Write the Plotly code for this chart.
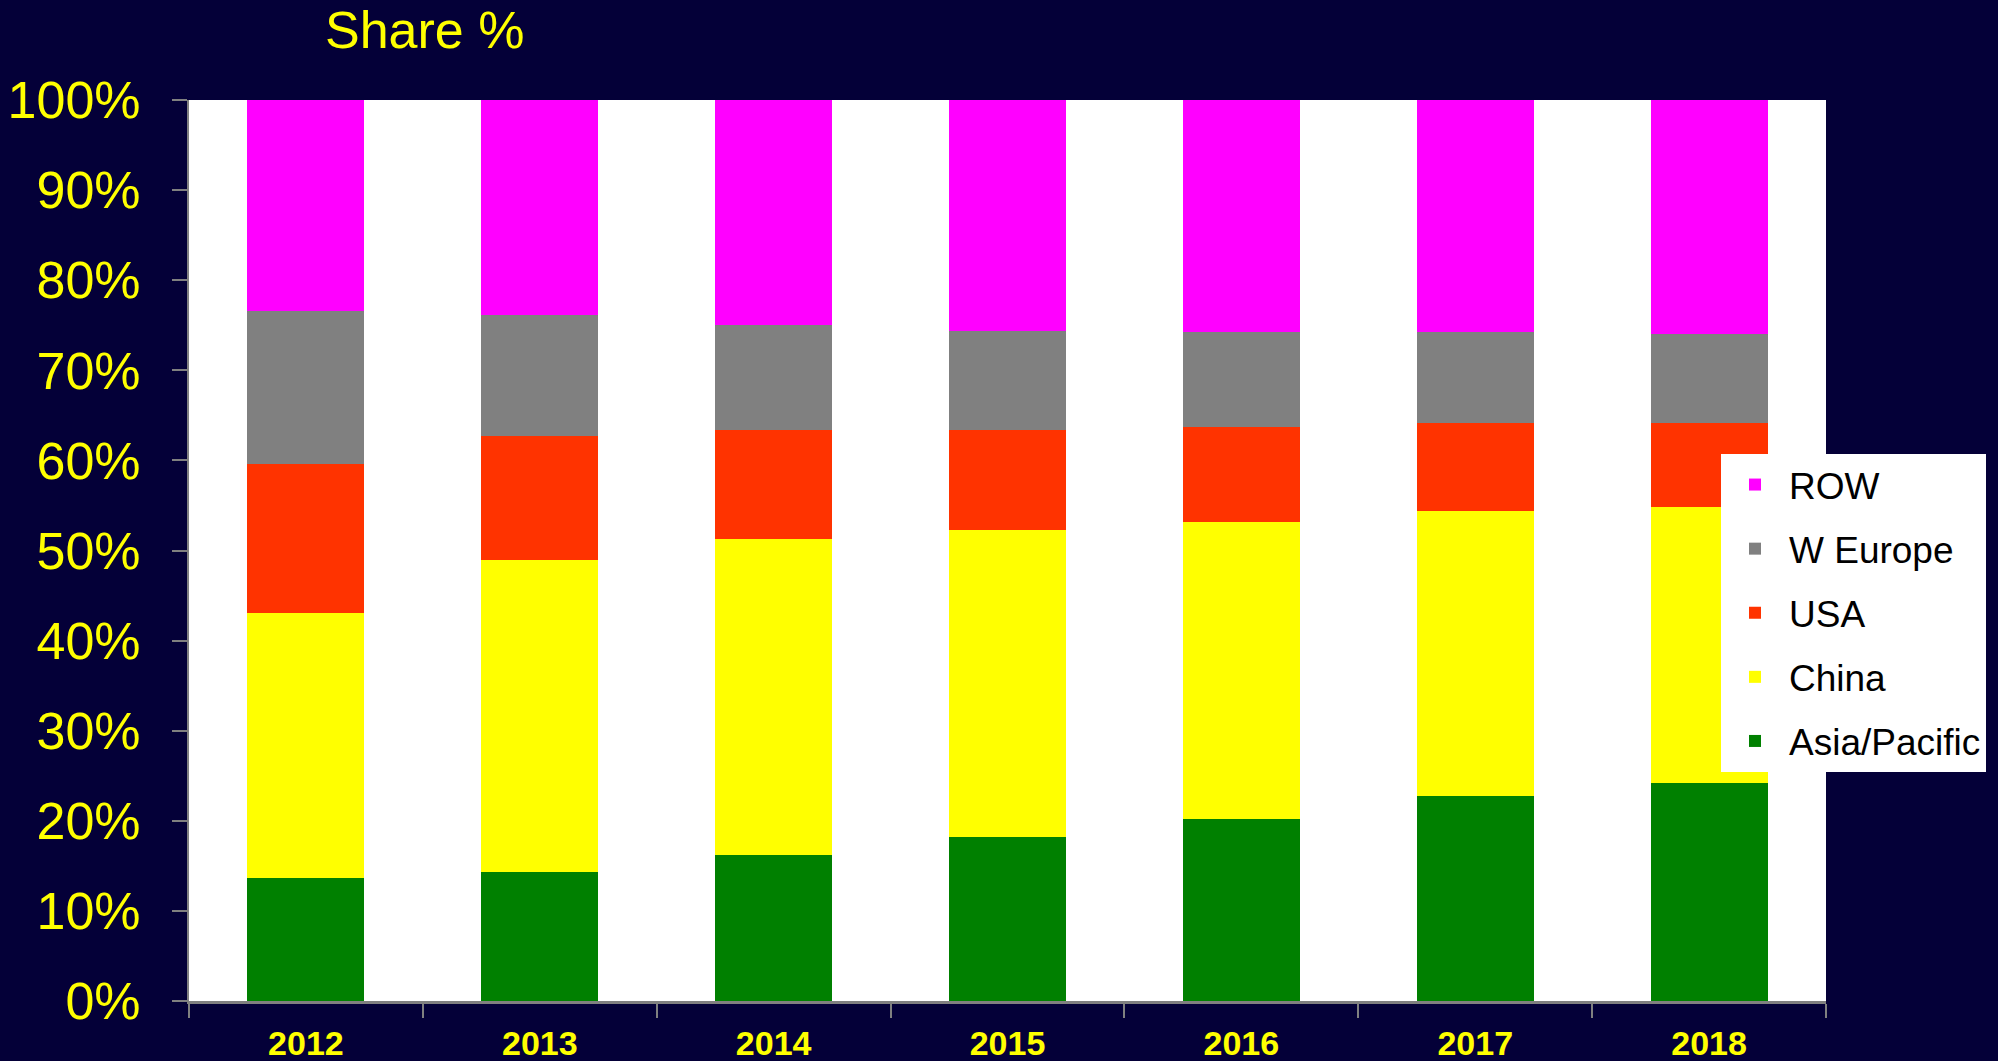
import plotly.graph_objects as go

years = ["2012", "2013", "2014", "2015", "2016", "2017", "2018"]
asia_pacific = [13.6, 14.3, 16.2, 18.2, 20.2, 22.7, 24.2]
china = [29.5, 34.7, 35.1, 34.1, 33.0, 31.7, 30.6]
usa = [16.5, 13.7, 12.1, 11.1, 10.5, 9.7, 9.3]
w_europe = [17.0, 13.4, 11.6, 11.0, 10.5, 10.2, 9.9]
row = [23.4, 23.9, 25.0, 25.6, 25.8, 25.7, 26.0]
y_ticks = [0, 10, 20, 30, 40, 50, 60, 70, 80, 90, 100]
y_labels = [f"{v}%" for v in y_ticks]

series = [
    ("Asia/Pacific", asia_pacific, "#008000"),
    ("China", china, "#FFFF00"),
    ("USA", usa, "#FF3300"),
    ("W Europe", w_europe, "#808080"),
    ("ROW", row, "#FF00FF"),
]

BG = "#040038"
W, H = 1998, 1061
L, R, T, B = 189, 172, 100, 60

fig = go.Figure()
n = len(series)
for i, (name, vals, color) in enumerate(series):
    fig.add_trace(go.Bar(
        x=years, y=vals, name=name, legendgroup=name,
        legendrank=n - i,
        marker=dict(color=color, line=dict(width=0)),
    ))

fig.update_layout(
    width=W, height=H,
    barmode="stack", bargap=0.5,
    paper_bgcolor=BG, plot_bgcolor="white",
    margin=dict(l=L, r=R, t=T, b=B),
    font=dict(family="Liberation Sans, Arial, sans-serif"),
    showlegend=True,
    legend=dict(
        x=(1721 - L) / (W - L - R), y=(H - B - 454) / (H - T - B),
        xanchor="left", yanchor="top",
        bgcolor="white", borderwidth=0,
        font=dict(size=37, color="black"),
        traceorder="grouped", tracegroupgap=13,
        itemwidth=58,
    ),
    annotations=[dict(
        text="Share %", xref="paper", yref="paper",
        x=(323 - L) / (W - L - R), y=(H - B - 30) / (H - T - B),
        xanchor="left", yanchor="middle", showarrow=False,
        font=dict(size=52, color="#FFFF00"),
    )],
)

fig.update_xaxes(
    type="category", tickson="boundaries", ticks="outside", ticklen=14,
    tickcolor="#808080", tickwidth=2,
    showline=True, linecolor="#808080", linewidth=3,
    tickfont=dict(size=34, color="#FFFF00", weight="bold"),
    ticklabelstandoff=10, automargin=False,
    showgrid=False,
)
fig.update_yaxes(
    range=[0, 100], tickmode="array", tickvals=y_ticks, ticktext=y_labels,
    ticks="outside", ticklen=15, tickcolor="#808080", tickwidth=2,
    showline=True, linecolor="#808080", linewidth=2,
    tickfont=dict(size=52, color="#FFFF00"),
    ticklabelstandoff=21, automargin=False,
    showgrid=False, zeroline=False,
)

fig.write_html(
    "out.html",
    config={"displayModeBar": False},
    post_script="document.body.style.margin='0';document.body.style.background='#040038';",
)
